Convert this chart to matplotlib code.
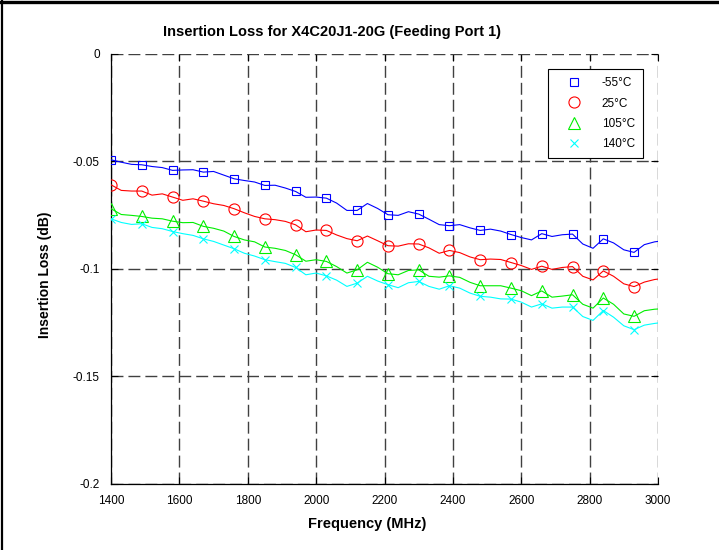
import matplotlib
matplotlib.use("Agg")
import matplotlib.pyplot as plt
from matplotlib.lines import Line2D

plt.rcParams['font.family'] = ['Liberation Sans', 'DejaVu Sans']

freq = [1400, 1430, 1460, 1490, 1520, 1550, 1580, 1610, 1640, 1670,
        1700, 1730, 1760, 1790, 1820, 1850, 1880, 1910, 1940, 1970,
        2000, 2030, 2060, 2090, 2120, 2150, 2180, 2210, 2240, 2270,
        2300, 2330, 2360, 2390, 2420, 2450, 2480, 2510, 2540, 2570,
        2600, 2630, 2660, 2690, 2720, 2750, 2780, 2810, 2840, 2870,
        2900, 2930, 2960, 2990, 3000]

loss_m55 = [-0.0494, -0.0505, -0.0515, -0.0517, -0.0525, -0.0530, -0.0543, -0.0541, -0.0540, -0.0551,
            -0.0548, -0.0565, -0.0582, -0.0590, -0.0597, -0.0613, -0.0612, -0.0625, -0.0641, -0.0668,
            -0.0667, -0.0672, -0.0695, -0.0729, -0.0729, -0.0697, -0.0720, -0.0749, -0.0752, -0.0735,
            -0.0746, -0.0770, -0.0795, -0.0800, -0.0795, -0.0810, -0.0822, -0.0816, -0.0825, -0.0841,
            -0.0855, -0.0866, -0.0837, -0.0850, -0.0842, -0.0839, -0.0885, -0.0905, -0.0861, -0.0880,
            -0.0912, -0.0924, -0.0888, -0.0875, -0.0873]

loss_25 = [-0.0610, -0.0636, -0.0639, -0.0639, -0.0658, -0.0652, -0.0667, -0.0682, -0.0675, -0.0686,
           -0.0698, -0.0706, -0.0721, -0.0740, -0.0757, -0.0768, -0.0772, -0.0780, -0.0796, -0.0828,
           -0.0820, -0.0822, -0.0843, -0.0860, -0.0870, -0.0848, -0.0870, -0.0893, -0.0895, -0.0884,
           -0.0885, -0.0903, -0.0928, -0.0915, -0.0925, -0.0945, -0.0958, -0.0955, -0.0957, -0.0971,
           -0.0985, -0.1003, -0.0988, -0.1003, -0.0994, -0.0990, -0.1035, -0.1052, -0.1010, -0.1035,
           -0.1070, -0.1083, -0.1062, -0.1050, -0.1048]

loss_105 = [-0.0721, -0.0748, -0.0752, -0.0757, -0.0765, -0.0768, -0.0779, -0.0786, -0.0785, -0.0803,
            -0.0812, -0.0825, -0.0850, -0.0866, -0.0875, -0.0899, -0.0905, -0.0915, -0.0935, -0.0965,
            -0.0958, -0.0966, -0.0990, -0.1020, -0.1005, -0.0970, -0.0993, -0.1023, -0.1028, -0.1008,
            -0.1005, -0.1035, -0.1039, -0.1033, -0.1040, -0.1063, -0.1079, -0.1079, -0.1079, -0.1090,
            -0.1102, -0.1125, -0.1103, -0.1132, -0.1127, -0.1121, -0.1165, -0.1183, -0.1136, -0.1165,
            -0.1210, -0.1221, -0.1195, -0.1188, -0.1187]

loss_140 = [-0.0768, -0.0785, -0.0794, -0.0791, -0.0808, -0.0814, -0.0827, -0.0837, -0.0845, -0.0861,
            -0.0873, -0.0890, -0.0907, -0.0928, -0.0941, -0.0958, -0.0967, -0.0975, -0.0994, -0.1028,
            -0.1020, -0.1033, -0.1053, -0.1082, -0.1067, -0.1035, -0.1057, -0.1074, -0.1088, -0.1065,
            -0.1059, -0.1082, -0.1095, -0.1079, -0.1090, -0.1113, -0.1128, -0.1132, -0.1140, -0.1141,
            -0.1155, -0.1178, -0.1163, -0.1183, -0.1178, -0.1178, -0.1222, -0.1240, -0.1194, -0.1225,
            -0.1265, -0.1283, -0.1262, -0.1254, -0.1252]

labels = ['-55°C', '25°C', '105°C', '140°C']
colors = ['#0000ff', '#ff0000', '#00ee00', '#00ffff']
markers = ['s', 'o', '^', 'x']
msizes = [6, 8, 8.5, 6]

xticks = [1400, 1600, 1800, 2000, 2200, 2400, 2600, 2800, 3000]
yticks = [0, -0.05, -0.1, -0.15, -0.2]
ytick_labels = ['0', '-0.05', '-0.1', '-0.15', '-0.2']

fig = plt.figure(figsize=(7.19, 5.5), dpi=100)
ax = fig.add_axes([111 / 719, 1 - 484 / 550, (658 - 111) / 719, (484 - 53.5) / 550])

series = [loss_m55, loss_25, loss_105, loss_140]
mark_idx = list(range(0, 52, 3))
handles = []
for vals, c, m, ms, lab in zip(series, colors, markers, msizes, labels):
    ax.plot(freq, vals, color=c, lw=0.8, zorder=3)
    ax.plot([freq[i] for i in mark_idx], [vals[i] for i in mark_idx], ls='none',
            marker=m, ms=ms, mfc='none', mec=c, mew=0.8, zorder=4)
    handles.append(Line2D([], [], ls='none', marker=m, ms=ms, mfc='none', mec=c, mew=0.8, label=lab))

ax.set_xlim(1400, 3000)
ax.set_ylim(-0.2, 0)
ax.set_xticks(xticks)
ax.set_xticklabels([str(t) for t in xticks])
ax.set_yticks(yticks)
ax.set_yticklabels(ytick_labels)
ax.tick_params(direction='in', length=5, width=0.8, top=True, right=True,
               labelsize=8.5, pad=8)
ax.grid(True, color='0.25', lw=1.0, ls=(0, (8.6, 3.6)))
ax.set_axisbelow(True)
for s in ['top', 'right']:
    ax.spines[s].set_visible(False)
for s in ['left', 'bottom']:
    ax.spines[s].set_linewidth(0.9)
    ax.spines[s].set_zorder(2)

leg = ax.legend(handles=handles, loc='upper right', bbox_to_anchor=(643 / 719, 1 - 69 / 550),
                bbox_transform=fig.transFigure, fontsize=8.5, frameon=True, fancybox=False,
                edgecolor='black', framealpha=1, borderpad=0.7, labelspacing=0.7,
                handletextpad=0.9, handlelength=2.9, borderaxespad=0)
leg.get_frame().set_linewidth(0.8)

fig.text(332 / 719, 1 - 32 / 550, 'Insertion Loss for X4C20J1-20G (Feeding Port 1)',
         ha='center', va='center', fontsize=10.5, fontweight='bold')
fig.text(367 / 719, 1 - 524 / 550, 'Frequency (MHz)', ha='center', va='center',
         fontsize=10.5, fontweight='bold')
fig.text(45 / 719, 1 - 275 / 550, 'Insertion Loss (dB)', ha='center', va='center',
         fontsize=10, fontweight='bold', rotation=90)

# figure border (left and top visible in reference)
fig.add_artist(Line2D([1.5 / 719, 1.5 / 719], [0, 1], transform=fig.transFigure, color='black', lw=1.6))
fig.add_artist(Line2D([0, 1], [1 - 1.5 / 550, 1 - 1.5 / 550], transform=fig.transFigure, color='black', lw=2.4))

fig.savefig('out.png', dpi=100)
